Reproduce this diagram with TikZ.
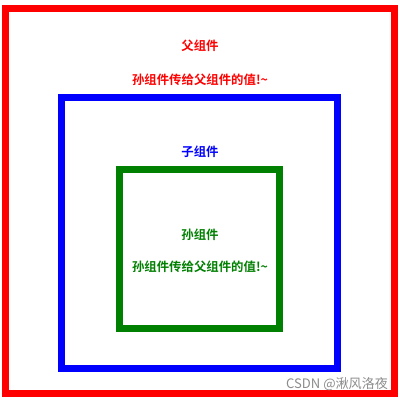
\documentclass[tikz,border=0pt]{standalone}
\usepackage{fontspec}
\newfontfamily\cjkbold{Noto Sans CJK SC Bold}
\newfontfamily\cjk{Noto Sans CJK SC}
\begin{document}
\begin{tikzpicture}[x=0.75pt,y=-0.75pt,
  frame/.style={line width=5.25pt},
  lbl/.style={font=\cjkbold\fontsize{9.3pt}{11pt}\selectfont, inner sep=0pt, anchor=center},
  wm/.style={font=\cjk\fontsize{9.8pt}{11pt}\selectfont, text=black!45, inner sep=0pt, anchor=center}]
\useasboundingbox (0,0) rectangle (400,400);
\fill[white] (0,0) rectangle (400,400);
\definecolor{gr}{RGB}{0,128,0}
\draw[frame, red] (5,8.7) rectangle (394.5,393.5);
\draw[frame, blue] (61.8,97.5) rectangle (337,368.5);
\draw[frame, gr] (119.5,169) rectangle (279.5,328.5);
\node[lbl, text=red] (fa) at (200,46) {父组件};
\node[lbl, text=red] (fav) at (200,79.5) {孙组件传给父组件的值!\textasciitilde};
\node[lbl, text=blue] (zi) at (200,151.5) {子组件};
\node[lbl, text=gr] (sun) at (200,234.5) {孙组件};
\node[lbl, text=gr] (sunv) at (200,267) {孙组件传给父组件的值!\textasciitilde};
\node[wm] (mark) at (337,384) {CSDN @湫风洛夜};
\end{tikzpicture}
\end{document}
